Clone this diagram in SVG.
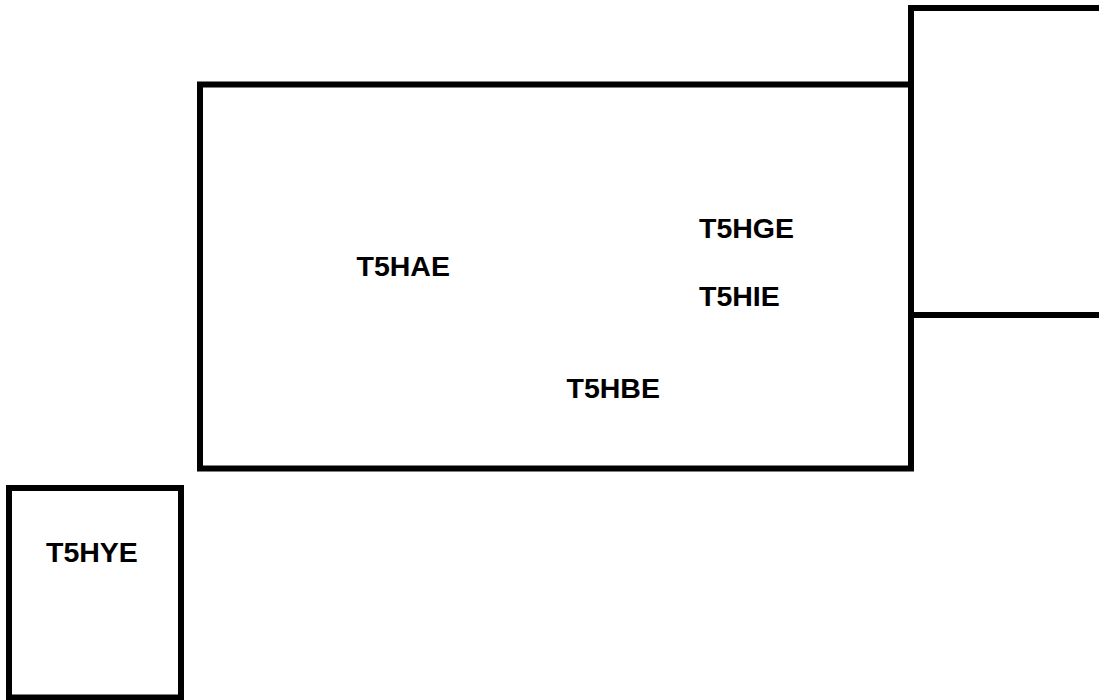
<svg xmlns="http://www.w3.org/2000/svg" width="1099" height="700" viewBox="0 0 1099 700">
<style>
.box{fill:none;stroke:#000;stroke-width:6}
.lbl{font-family:"Liberation Sans",Arial,sans-serif;font-weight:bold;font-size:28.5px;fill:#000}
</style>
<rect width="1099" height="700" fill="#fff"/>
<g id="main">
<rect class="box" x="200" y="84.5" width="711" height="384"/>
<text class="lbl" x="356.5" y="276">T5HAE</text>
<text class="lbl" x="699" y="237.5">T5HGE</text>
<text class="lbl" x="699" y="306">T5HIE</text>
<text class="lbl" x="566.5" y="398">T5HBE</text>
</g>
<g id="right">
<rect class="box" x="911" y="8" width="200" height="307"/>
</g>
<g id="hye">
<rect class="box" x="9" y="488" width="172" height="209.5"/>
<text class="lbl" x="46" y="561.5">T5HYE</text>
</g>
<g id="connectors"></g>
</svg>
